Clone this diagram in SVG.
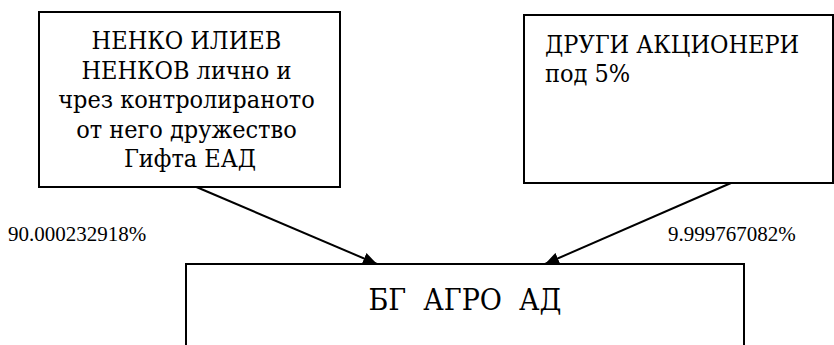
<svg xmlns="http://www.w3.org/2000/svg" width="834" height="345" viewBox="0 0 834 345">
<style>
.box{fill:#fff;stroke:#000;stroke-width:2}
.t{font-family:"Liberation Serif","DejaVu Serif",serif;fill:#000}
.c{font-family:"DejaVu Serif","Liberation Serif",serif;font-stretch:condensed}
.n{font-size:25px}
.lbl{font-size:21px}
.title{font-size:30px}
.conn{stroke:#000;stroke-width:2;fill:none;marker-end:url(#ah)}
</style>
<defs>
<marker id="ah" markerUnits="userSpaceOnUse" markerWidth="16" markerHeight="12" refX="14" refY="6" orient="auto">
<path d="M0,0 L14,6 L0,12 z" fill="#000"/>
</marker>
</defs>
<g id="connectors">
<line class="conn" x1="187" y1="183" x2="377" y2="264"/>
<line class="conn" x1="731" y1="183" x2="545" y2="264"/>
</g>
<g id="node-nenkov">
<rect class="box" x="39" y="12" width="301" height="175"/>
<text class="t c n" text-anchor="middle" x="190">
<tspan x="190" y="49">НЕНКО ИЛИЕВ</tspan>
<tspan x="190" y="78.5">НЕНКОВ лично и</tspan>
<tspan x="190" y="108">чрез контролираното</tspan>
<tspan x="190" y="137.5">от него дружество</tspan>
<tspan x="190" y="167">Гифта ЕАД</tspan>
</text>
</g>
<g id="node-others">
<rect class="box" x="524" y="15" width="309" height="168"/>
<text class="t c n" x="545">
<tspan x="545" y="53">ДРУГИ АКЦИОНЕРИ</tspan>
<tspan x="545" y="82">под 5%</tspan>
</text>
</g>
<g id="node-bgagro">
<rect class="box" x="186" y="264" width="558" height="100"/>
<text class="t c title" x="465" y="310" text-anchor="middle" xml:space="preserve">БГ  АГРО  АД</text>
</g>
<g id="labels">
<text class="t lbl" x="8" y="241">90.000232918%</text>
<text class="t lbl" x="668" y="241">9.999767082%</text>
</g>
</svg>
